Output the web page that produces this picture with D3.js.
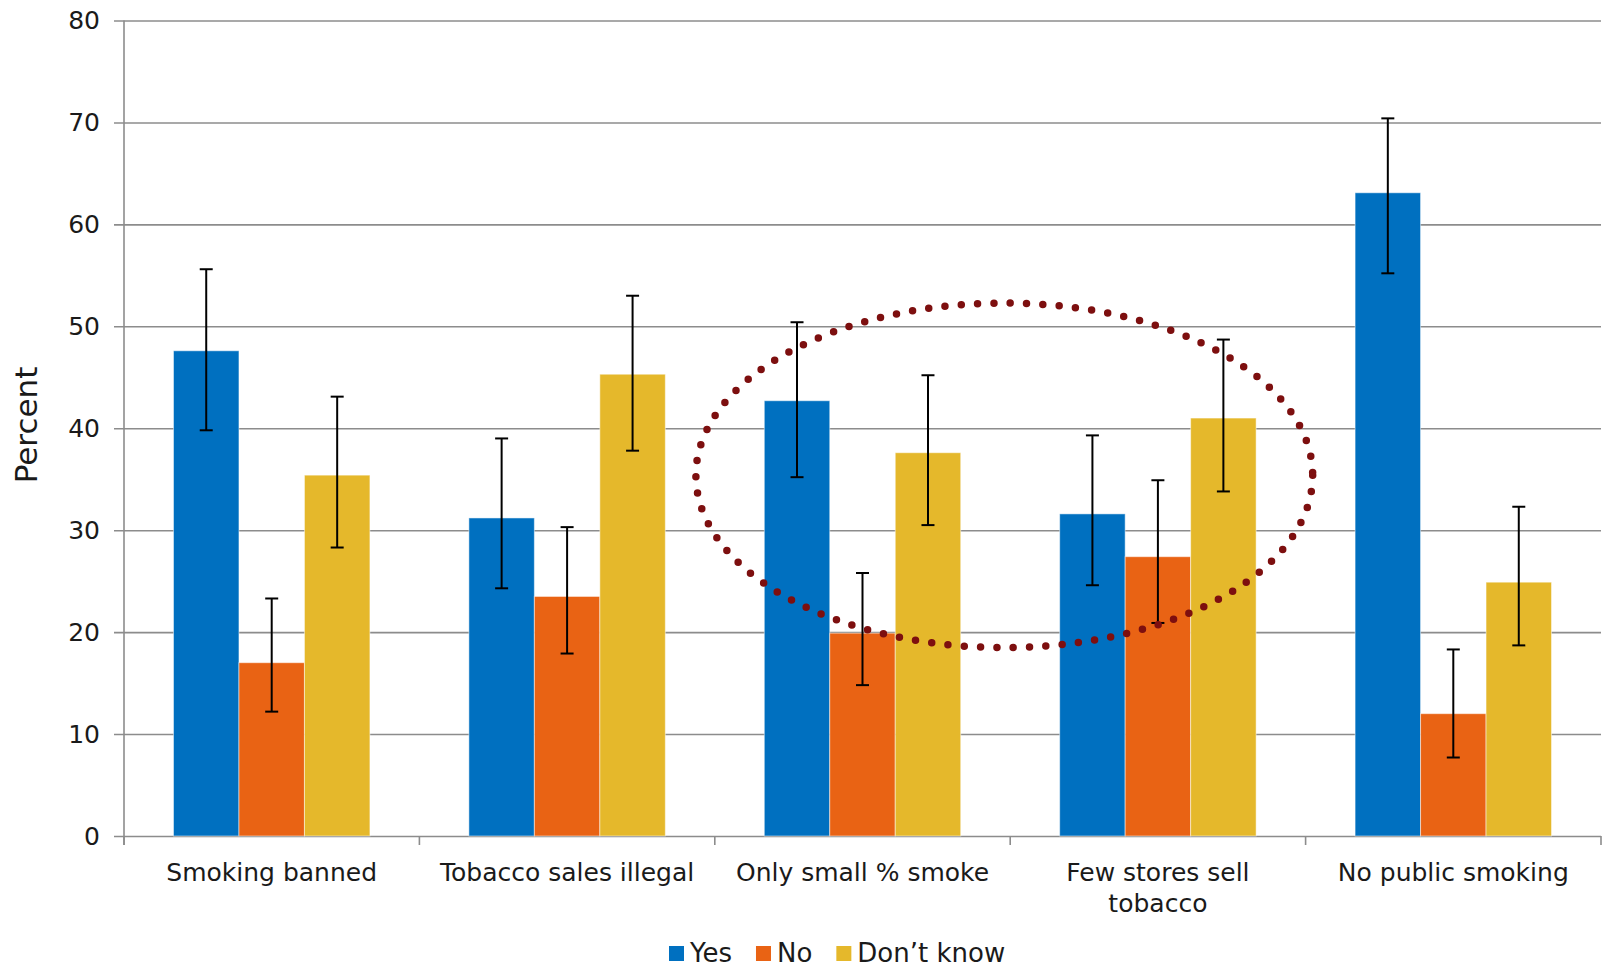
<!DOCTYPE html>
<html>
<head>
<meta charset="utf-8">
<script src="https://cdn.jsdelivr.net/npm/d3@7/dist/d3.min.js"></script>
<style>
  html, body { margin: 0; padding: 0; background: #ffffff; }
  svg { display: block; }
  text { font-family: "DejaVu Sans", sans-serif; fill: #1a1a1a; }
</style>
</head>
<body>
<svg id="chart" width="1602" height="971"></svg>
<script>
// ---- data ----
const categories = ["Smoking banned", "Tobacco sales illegal", "Only small % smoke", "Few stores sell tobacco", "No public smoking"];
const categoryLines = [["Smoking banned"], ["Tobacco sales illegal"], ["Only small % smoke"], ["Few stores sell", "tobacco"], ["No public smoking"]];
const seriesNames = ["Yes", "No", "Don\u2019t know"];
const yesValues = [47.6, 31.2, 42.7, 31.6, 63.1];
const yesLow    = [39.8, 24.3, 35.2, 24.6, 55.2];
const yesHigh   = [55.6, 39.0, 50.4, 39.3, 70.4];
const noValues  = [17.0, 23.5, 19.9, 27.4, 12.0];
const noLow     = [12.2, 17.9, 14.8, 20.9, 7.7];
const noHigh    = [23.3, 30.3, 25.8, 34.9, 18.3];
const dkValues  = [35.4, 45.3, 37.6, 41.0, 24.9];
const dkLow     = [28.3, 37.8, 30.5, 33.8, 18.7];
const dkHigh    = [43.1, 53.0, 45.2, 48.7, 32.3];
const yTicks = [0, 10, 20, 30, 40, 50, 60, 70, 80];

const colors = ["#0070C0", "#E96314", "#E5B82B"];

(function () {
// ---- layout ----
const svg = d3.select("#chart");
const plotLeft = 124, plotRight = 1601, plotTop = 20.5, plotBottom = 836;

const x0 = d3.scaleBand().domain(categories).range([plotLeft, plotRight]).paddingInner(0.335).paddingOuter(0.1675);
const x1 = d3.scaleBand().domain(seriesNames).range([0, x0.bandwidth()]).padding(0);
const y = d3.scaleLinear().domain([0, 80]).range([plotBottom, plotTop]);

const rows = categories.map((c, i) => ({
  cat: c,
  vals: [
    {s: seriesNames[0], v: yesValues[i], lo: yesLow[i], hi: yesHigh[i], c: colors[0]},
    {s: seriesNames[1], v: noValues[i],  lo: noLow[i],  hi: noHigh[i],  c: colors[1]},
    {s: seriesNames[2], v: dkValues[i],  lo: dkLow[i],  hi: dkHigh[i],  c: colors[2]}
  ]
}));

// gridlines + y axis ticks
const yAxis = d3.axisLeft(y).tickValues(yTicks).tickSize(plotRight - plotLeft + 10).tickPadding(14).tickFormat(d3.format("d"));
const gy = svg.append("g").attr("transform", `translate(${plotRight},0)`).call(yAxis);
gy.select(".domain").remove();
gy.selectAll(".tick line").attr("stroke", "#8c8c8c").attr("stroke-width", 1.6);
gy.selectAll(".tick text").style("font-size", "25px").attr("fill", "#1a1a1a").style("font-family", "DejaVu Sans");

// vertical axis line
svg.append("line").attr("x1", plotLeft).attr("x2", plotLeft).attr("y1", plotTop).attr("y2", plotBottom + 9)
  .attr("stroke", "#8c8c8c").attr("stroke-width", 1.6);

// x axis ticks at band boundaries
const step = x0.step();
const boundaries = d3.range(categories.length + 1).map(i => plotLeft + i * step);
svg.append("g").selectAll("line").data(boundaries).join("line")
  .attr("x1", d => d).attr("x2", d => d).attr("y1", plotBottom).attr("y2", plotBottom + 9)
  .attr("stroke", "#8c8c8c").attr("stroke-width", 1.6);

// bars
const groups = svg.append("g").selectAll("g").data(rows).join("g")
  .attr("transform", d => `translate(${x0(d.cat)},0)`);

groups.selectAll("rect").data(d => d.vals).join("rect")
  .attr("x", d => x1(d.s))
  .attr("width", x1.bandwidth())
  .attr("y", d => y(d.v))
  .attr("height", d => y(0) - y(d.v))
  .attr("fill", d => d.c)
  .attr("stroke", "#ffffff").attr("stroke-opacity", 0.5).attr("stroke-width", 1);

// error bars
const capW = 13;
groups.selectAll("g.err").data(d => d.vals).join("g").attr("class", "err")
  .each(function(d) {
    const g = d3.select(this);
    const cx = x1(d.s) + x1.bandwidth() / 2;
    g.append("line").attr("x1", cx).attr("x2", cx).attr("y1", y(d.lo)).attr("y2", y(d.hi))
      .attr("stroke", "#000").attr("stroke-width", 2);
    [d.lo, d.hi].forEach(v => {
      g.append("line").attr("x1", cx - capW / 2).attr("x2", cx + capW / 2).attr("y1", y(v)).attr("y2", y(v))
        .attr("stroke", "#000").attr("stroke-width", 2);
    });
  });

// category labels
const catG = svg.append("g").selectAll("text").data(categories).join("text")
  .attr("x", d => x0(d) + x0.bandwidth() / 2)
  .attr("y", 881)
  .attr("text-anchor", "middle")
  .style("font-size", "25px");
catG.each(function(d, i) {
  const t = d3.select(this);
  categoryLines[i].forEach((line, j) => {
    t.append("tspan").attr("x", x0(d) + x0.bandwidth() / 2).attr("dy", j === 0 ? 0 : 31).text(line);
  });
});

// y axis title
svg.append("text")
  .attr("transform", `translate(37,425) rotate(-90)`)
  .attr("text-anchor", "middle")
  .style("font-size", "31px")
  .text("Percent");

// annotation ellipse (dotted), positioned via scales
const ellCenterBand = 2.98, ellRxBand = 1.044;
const ellCenterVal = 35.38, ellRyVal = 16.9;
svg.append("ellipse")
  .attr("cx", plotLeft + ellCenterBand * step)
  .attr("cy", y(ellCenterVal))
  .attr("rx", ellRxBand * step)
  .attr("ry", y(0) - y(ellRyVal))
  .attr("fill", "none")
  .attr("stroke", "#7d0f0f")
  .attr("stroke-width", 7.5)
  .attr("stroke-linecap", "round")
  .attr("stroke-dasharray", "0 16.35");

// legend
const legend = svg.append("g");
let lx = 669;
seriesNames.forEach((name, i) => {
  legend.append("rect").attr("x", lx).attr("y", 946).attr("width", 15).attr("height", 15).attr("fill", colors[i]);
  const t = legend.append("text").attr("x", lx + 21).attr("y", 962).style("font-size", "26px").text(name);
  lx += 21 + t.node().getComputedTextLength() + 24;
});
})();
</script>
</body>
</html>
